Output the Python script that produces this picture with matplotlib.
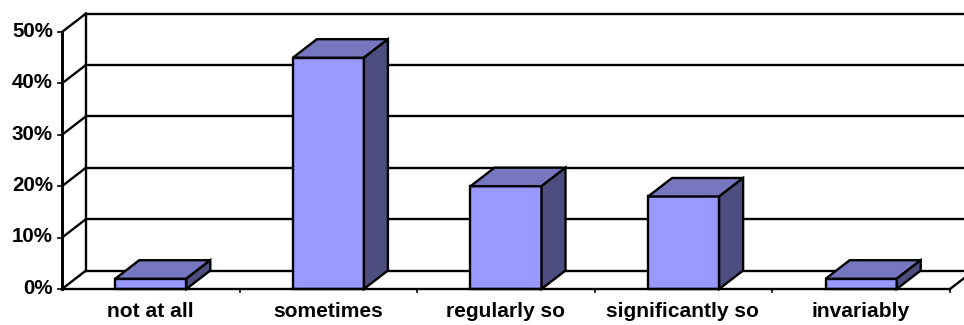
import matplotlib
matplotlib.use('Agg')
import matplotlib.pyplot as plt
from matplotlib.patches import Polygon

plt.rcParams['font.family'] = ['Liberation Sans', 'DejaVu Sans']

categories = ['not at all', 'sometimes', 'regularly so', 'significantly so', 'invariably']
values = [2, 45, 20, 18, 2]
y_ticks = [0, 10, 20, 30, 40, 50]
y_labels = ['0%', '10%', '20%', '30%', '40%', '50%']

W, H = 964, 325
LEFT, RIGHT, TOP, BOTTOM = 62, 950, 32, 289

FRONT = '#9999ff'
ROOF = '#7777bf'
SIDE = '#4d4d7f'
LW = 1.7

fig = plt.figure(figsize=(W / 100, H / 100), dpi=100)
ax = fig.add_axes([LEFT / W, 1 - BOTTOM / H, (RIGHT - LEFT) / W, (BOTTOM - TOP) / H])
ax.set_xlim(0, len(categories))
ax.set_ylim(0, 50)
ax.axis('off')

# depth of the fake 3d box, in data units
dx = 24 / (RIGHT - LEFT) * len(categories)
dy = 18.5 / (BOTTOM - TOP) * 50
bar_w = 0.4
n = len(categories)


def line(xs, ys, z=1, lw=LW):
    ax.plot(xs, ys, color='black', lw=lw, clip_on=False, zorder=z, solid_capstyle='projecting')


# back wall and floor
for t in y_ticks:
    line([0, dx], [t, t + dy])
    line([dx, n + dx], [t + dy, t + dy])
    line([-0.02, 0], [t, t], lw=1.2)
line([dx, dx], [dy, 50 + dy])
line([0, 0], [0, 50], z=5, lw=2.1)
line([0, n], [0, 0], z=5)
line([n, n + dx], [0, dy])
for i in range(1, n + 1):
    line([i, i], [0, -0.6], lw=1.2)

# bars
for i, v in enumerate(values):
    x0 = i + 0.5 - bar_w / 2
    x1 = x0 + bar_w
    ax.bar(i + 0.5, v, bar_w, color=FRONT, edgecolor='black', linewidth=LW, zorder=3, clip_on=False)
    roof = [(x0, v), (x1, v), (x1 + dx, v + dy), (x0 + dx, v + dy)]
    side = [(x1, 0), (x1 + dx, dy), (x1 + dx, v + dy), (x1, v)]
    ax.add_patch(Polygon(roof, fc=ROOF, ec='black', lw=LW, zorder=3, clip_on=False, joinstyle='miter'))
    ax.add_patch(Polygon(side, fc=SIDE, ec='black', lw=LW, zorder=3, clip_on=False, joinstyle='miter'))
    ax.annotate(categories[i], (i + 0.5, 0), xytext=(-0.5, -16), textcoords='offset points',
                ha='center', va='center', fontsize=15.1, fontweight='bold', annotation_clip=False)

for t, lab in zip(y_ticks, y_labels):
    ax.annotate(lab, (0, t), xytext=(-6.5, 0.5), textcoords='offset points',
                ha='right', va='center', fontsize=14.8, fontweight='bold', annotation_clip=False)

fig.savefig('out.png', dpi=100)
